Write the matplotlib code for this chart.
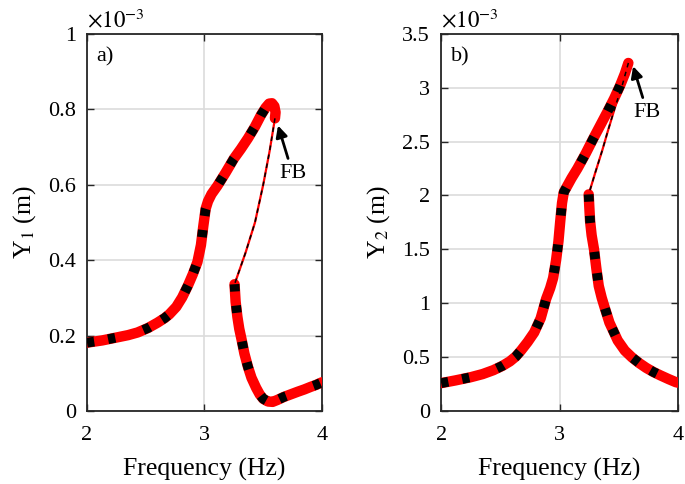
import matplotlib
matplotlib.use("Agg")
import matplotlib.pyplot as plt
from matplotlib.ticker import FuncFormatter

plt.rcParams['font.family'] = ['Liberation Serif', 'DejaVu Serif']
plt.rcParams['mathtext.fontset'] = 'stix'

# ---------------- data (amplitudes in units of 1e-3 m) ----------------
# Panel a) Y1
fa_upper = [2.0, 2.13, 2.256, 2.35, 2.43, 2.52, 2.60, 2.66, 2.70, 2.76, 2.81, 2.86, 2.90,
            2.94, 2.97, 2.99, 3.01, 3.03, 3.06, 3.11, 3.18, 3.25, 3.31, 3.37, 3.43, 3.48,
            3.52, 3.55, 3.575, 3.595, 3.605, 3.60]
ya_upper = [0.181, 0.187, 0.195, 0.201, 0.208, 0.220, 0.234, 0.246, 0.256, 0.276, 0.301,
            0.333, 0.362, 0.395, 0.44, 0.49, 0.536, 0.556, 0.575, 0.597, 0.632, 0.669, 0.695,
            0.723, 0.754, 0.784, 0.804, 0.815, 0.816, 0.808, 0.792, 0.776]
fa_unst = [3.60, 3.555, 3.50, 3.43, 3.35, 3.256]
ya_unst = [0.776, 0.69, 0.60, 0.50, 0.42, 0.336]
fa_lower = [3.256, 3.265, 3.28, 3.296, 3.316, 3.34, 3.37, 3.40, 3.44, 3.47, 3.50, 3.54,
            3.58, 3.62, 3.675, 3.735, 3.795, 3.85, 3.906, 3.95, 4.0]
ya_lower = [0.336, 0.29, 0.25, 0.218, 0.189, 0.152, 0.117, 0.088, 0.061, 0.044, 0.032,
            0.025, 0.024, 0.029, 0.037, 0.044, 0.051, 0.057, 0.064, 0.069, 0.076]

# Panel b) Y2
fb_upper = [2.0, 2.12, 2.25, 2.35, 2.44, 2.52, 2.58, 2.63, 2.675, 2.73, 2.785, 2.84, 2.886,
            2.92, 2.945, 2.97, 2.99, 3.005, 3.02, 3.035, 3.06, 3.10, 3.15, 3.22, 3.28, 3.34,
            3.40, 3.46, 3.51, 3.55, 3.58]
yb_upper = [0.258, 0.283, 0.313, 0.342, 0.378, 0.42, 0.46, 0.505, 0.562, 0.64, 0.728, 0.86,
            1.04, 1.14, 1.234, 1.40, 1.575, 1.76, 1.93, 2.03, 2.08, 2.16, 2.25, 2.39, 2.52,
            2.645, 2.77, 2.90, 3.02, 3.13, 3.23]
fb_unst = [3.58, 3.53, 3.468, 3.41, 3.36, 3.30, 3.245]
yb_unst = [3.23, 3.03, 2.82, 2.61, 2.42, 2.21, 2.01]
fb_lower = [3.245, 3.25, 3.257, 3.27, 3.29, 3.31, 3.33, 3.355, 3.38, 3.42, 3.49, 3.55,
            3.61, 3.67, 3.73, 3.79, 3.85, 3.92, 3.98, 4.0]
yb_lower = [2.01, 1.90, 1.76, 1.63, 1.50, 1.32, 1.16, 1.05, 0.96, 0.82, 0.654, 0.56,
            0.497, 0.445, 0.40, 0.362, 0.33, 0.295, 0.267, 0.262]

xticks = [2, 3, 4]
yticks_a = [0, 0.2, 0.4, 0.6, 0.8, 1.0]
yticks_b = [0, 0.5, 1, 1.5, 2, 2.5, 3, 3.5]

fb_a = (3.626, 0.757)
fb_a_text = (3.75, 0.63)
fb_b = (3.62, 3.20)
fb_b_text = (3.74, 2.77)

# ---------------- figure ----------------
fig = plt.figure(figsize=(6.85, 4.84), dpi=100)
ax1 = fig.add_axes([0.127, 0.151, 0.343, 0.779])
ax2 = fig.add_axes([0.644, 0.151, 0.346, 0.779])

RED = '#ff0000'
def draw_branch(ax, x, y, stable=True):
    if stable:
        ax.plot(x, y, color=RED, lw=7.5, solid_capstyle='round', solid_joinstyle='round', zorder=3)
        ax.plot(x, y, color='k', lw=7, dashes=(0.75, 1.45, 0.75, 3.0),
                dash_capstyle='butt', dash_joinstyle='round', zorder=4)
    else:
        ax.plot(x, y, color=RED, lw=1.6, zorder=3)
        ax.plot(x, y, color='k', lw=1.1, dashes=(3, 3), zorder=4)

fmt = FuncFormatter(lambda v, p: '%g' % v)

panels = [
    (ax1, fa_upper, ya_upper, fa_unst, ya_unst, fa_lower, ya_lower, yticks_a, (0, 1.0),
     'Y$_1$ (m)', 'a)', fb_a, fb_a_text),
    (ax2, fb_upper, yb_upper, fb_unst, yb_unst, fb_lower, yb_lower, yticks_b, (0, 3.5),
     'Y$_2$ (m)', 'b)', fb_b, fb_b_text),
]
for ax, fu, yu, fs, ys, fl, yl, yt, ylim, ylab, tag, tip, txt in panels:
    draw_branch(ax, fs, ys, stable=False)
    draw_branch(ax, fu, yu)
    draw_branch(ax, fl, yl)
    ax.set_xlim(2, 4)
    ax.set_ylim(*ylim)
    ax.set_xticks(xticks)
    ax.set_yticks(yt)
    ax.xaxis.set_major_formatter(fmt)
    ax.yaxis.set_major_formatter(fmt)
    ax.grid(True, color='#dcdcdc', lw=1.2, zorder=0)
    ax.set_axisbelow(True)
    ax.tick_params(direction='in', length=5, width=1.0, labelsize=16, colors='#262626',
                   labelcolor='k', top=True, right=True, pad=8)
    ax.tick_params(axis='x', pad=11)
    for sp in ax.spines.values():
        sp.set_color('#262626')
        sp.set_linewidth(1.3)
    ax.set_xlabel('Frequency (Hz)', fontsize=18.5, labelpad=9)
    ax.set_ylabel(ylab, fontsize=18.5, labelpad=7)
    ax.text(0.04, 0.965, tag, transform=ax.transAxes, fontsize=16, va='top', ha='left')
    ax.text(0.0, 1.005, r'$\times10^{-3}$', transform=ax.transAxes, fontsize=16.5,
            va='bottom', ha='left')
    ax.annotate('FB', xy=tip, xytext=txt, fontsize=16, ha='center', va='center',
                arrowprops=dict(arrowstyle='-|>', color='k', lw=2, mutation_scale=17,
                                shrinkA=2, shrinkB=0), zorder=6)

fig.savefig('out.png', dpi=100)
